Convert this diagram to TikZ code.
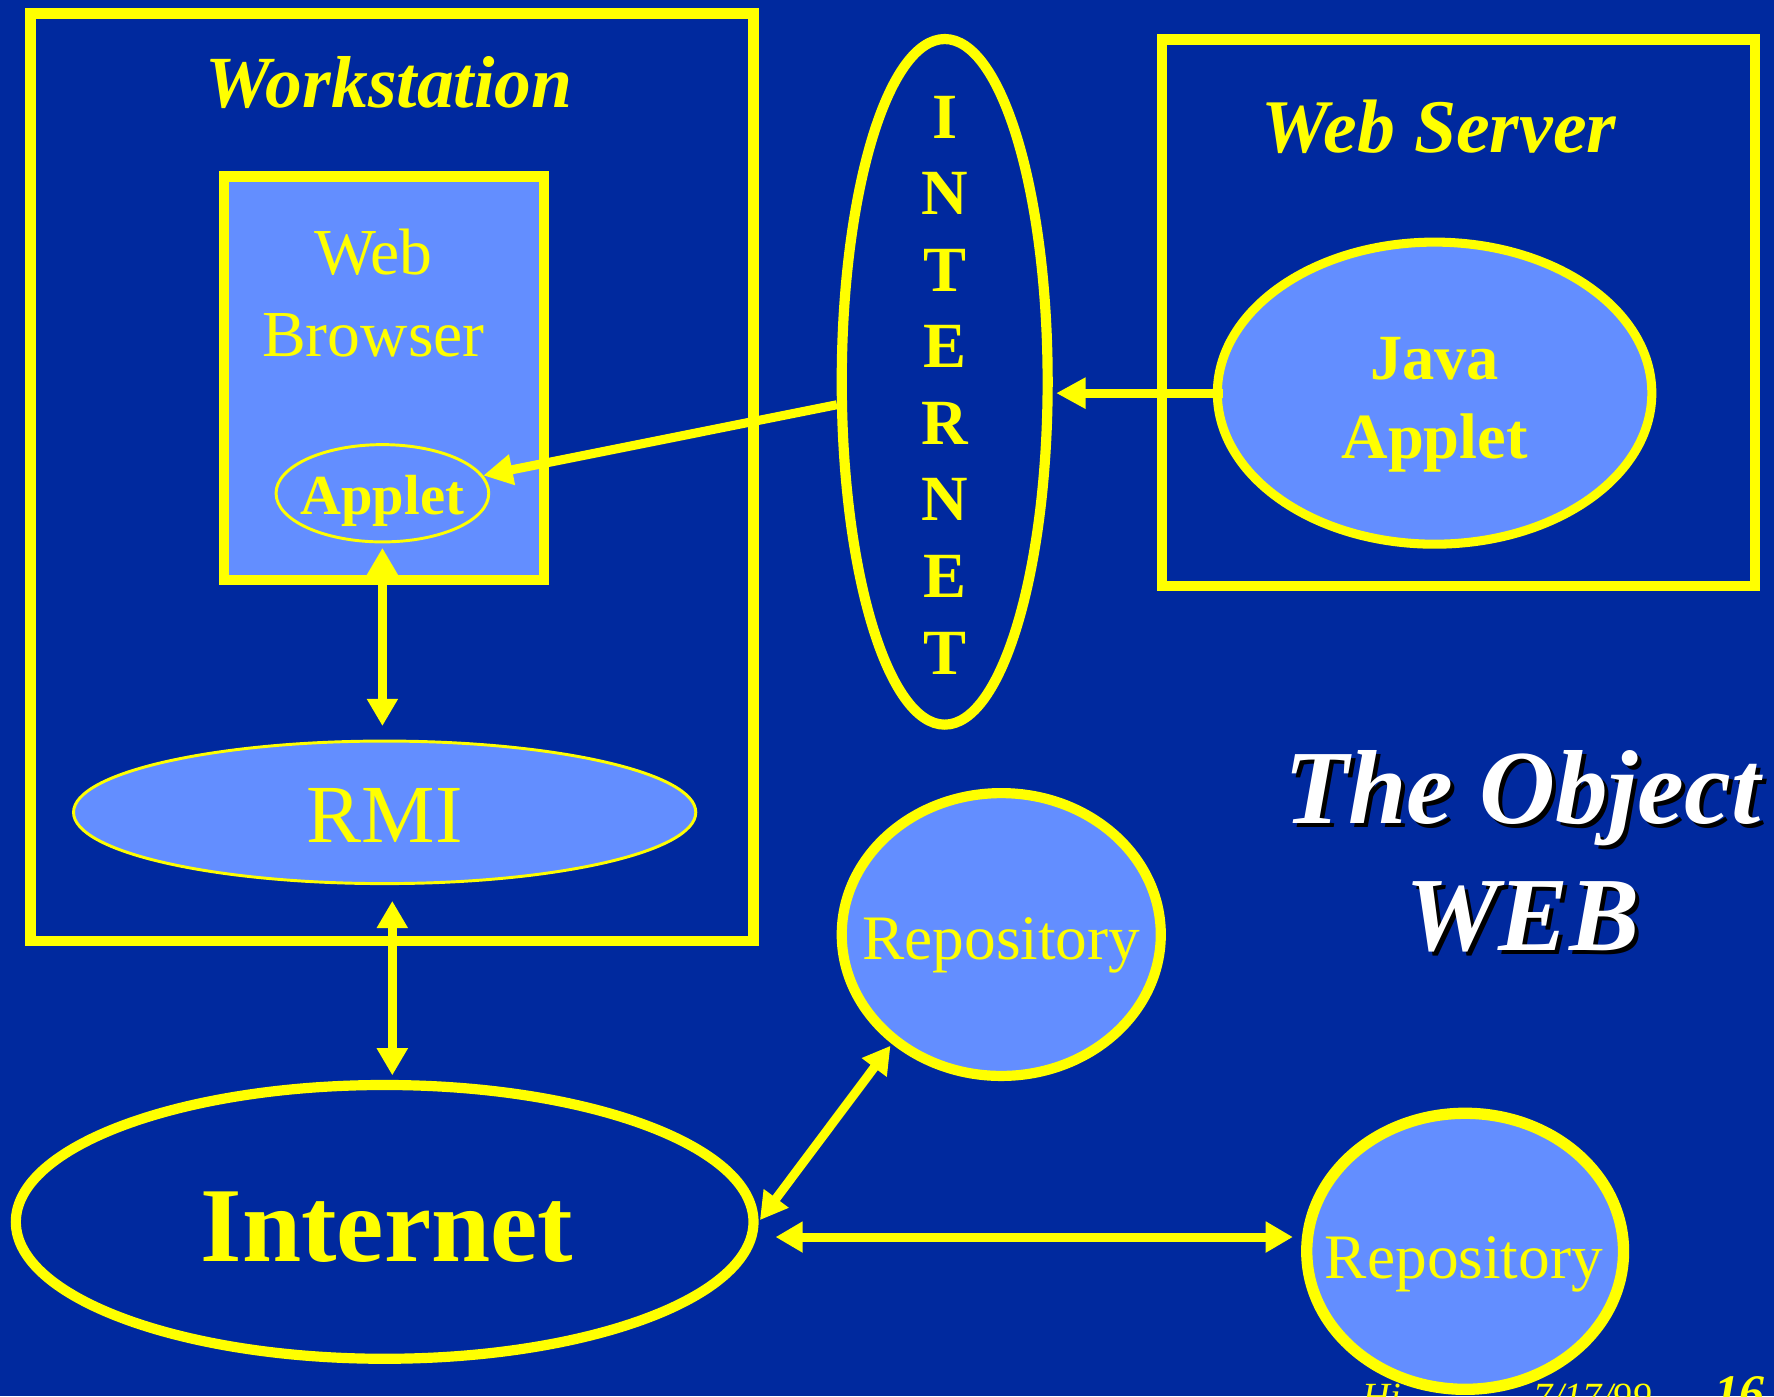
\documentclass[tikz,border=0pt]{standalone}
\usepackage{fontspec}
\setmainfont{Liberation Serif}
\usetikzlibrary{arrows.meta,shapes.geometric,calc}
\definecolor{slide}{HTML}{00299E}
\definecolor{pale}{HTML}{638EFF}
\definecolor{hl}{HTML}{FFFF00}
\newcommand\fsz[1]{\fontsize{#1}{#1}\selectfont}

\begin{document}
\begin{tikzpicture}[x=0.5pt,y=-0.5pt,
  frame/.style={draw=hl,line width=4.5pt,inner sep=0pt},
  oval/.style={ellipse,draw=hl,inner sep=0pt},
  lbl/.style={text=hl,inner sep=0pt,anchor=base},
  link/.style={draw=hl,line width=4pt},
  tip/.style={-{Triangle[length=13pt,width=13pt]}},
  both/.style={{Triangle[length=12pt,width=13pt]}-{Triangle[length=12pt,width=13pt]}}
]
\useasboundingbox (0,0) rectangle (1568,1234);
\clip (0,0) rectangle (1568,1234);
\fill[slide] (0,0) rectangle (1568,1234);

% Workstation
\node[frame,minimum width=319.5pt,minimum height=410pt] (ws) at (346.5,422) {};
\node[lbl,font=\fsz{32.5}\bfseries\itshape] (wsl) at (344,95) {Workstation};
\node[frame,fill=pale,minimum width=141.5pt,minimum height=178.5pt] (wb) at (339.5,334.5) {};
\node[lbl,font=\fsz{29}] (wbl1) at (330,243) {Web};
\node[lbl,font=\fsz{29}] (wbl2) at (330,315) {Browser};
\node[oval,line width=1.3pt,minimum width=94pt,minimum height=43pt] (applet) at (338,436) {};
\node[lbl,font=\fsz{25}\bfseries] (appletl) at (338,455) {Applet};
\node[oval,fill=pale,line width=1.3pt,minimum width=275pt,minimum height=63pt] (rmi) at (340,718) {};
\node[lbl,font=\fsz{36.5}] (rmil) at (340,745) {RMI};

% Internet (bottom)
\node[oval,line width=4.5pt,minimum width=326pt,minimum height=121pt] (net) at (340,1080) {};
\node[lbl,font=\fsz{47}\bfseries] (netl) at (342,1115) {Internet};

% INTERNET (vertical)
\node[oval,line width=4.5pt,minimum width=91pt,minimum height=303pt] (inet) at (835,337.5) {};
\foreach \ch/\yy [count=\k] in {I/122,N/190,T/258,E/325,R/393,N/460,E/528,T/596}
  \node[lbl,font=\fsz{28.5}\bfseries] (inetc\k) at (835,\yy) {\ch};

% Web server
\node[frame,minimum width=262pt,minimum height=241.5pt] (ws2) at (1289,276.5) {};
\node[lbl,font=\fsz{33.5}\bfseries\itshape] (ws2l) at (1272,135) {Web Server};
\node[oval,fill=pale,line width=4pt,minimum width=192pt,minimum height=133.5pt] (java) at (1268,347.5) {};
\node[lbl,font=\fsz{28.5}\bfseries] (javal1) at (1268,335) {Java};
\node[lbl,font=\fsz{28.5}\bfseries] (javal2) at (1268,405) {Applet};

% Title with drop shadow
\node[lbl,font=\fsz{46.5}\bfseries\itshape,text=black] (t1s) at (1349,731.5) {The Object};
\node[lbl,font=\fsz{46.5}\bfseries\itshape,text=white] (t1) at (1345.5,728) {The Object};
\node[lbl,font=\fsz{46.5}\bfseries\itshape,text=black] (t2s) at (1349,843.5) {WEB};
\node[lbl,font=\fsz{46.5}\bfseries\itshape,text=white] (t2) at (1345.5,840) {WEB};

% Footer
\node[lbl,anchor=base west,font=\fsz{17}\itshape] (ft1) at (1204,1246) {Hi};
\node[lbl,anchor=base east,font=\fsz{17}\itshape] (ft2) at (1460,1246) {7/17/99};
\node[lbl,anchor=base west,font=\fsz{22}\bfseries\itshape] (ft3) at (1515,1246) {16};

% Repositories
\node[oval,fill=pale,line width=4.5pt,minimum width=141pt,minimum height=125pt] (repo1) at (885,826) {};
\node[lbl,font=\fsz{28}] (repo1l) at (885,848) {Repository};
\node[oval,fill=pale,line width=5pt,minimum width=140pt,minimum height=122pt] (repo2) at (1295,1106) {};
\node[lbl,font=\fsz{28}] (repo2l) at (1294,1130) {Repository};

% Connectors
\draw[link,tip] (inet.192) -- (applet.10);
\draw[link,tip] ($(java.west)+(9,0)$) -- ($(java.west -| inet.east)+(3,0)$);
\draw[link,both,shorten <=2pt,shorten >=6pt] (applet.south) -- (applet.south |- rmi.north);
\draw[link,both,shorten <=7pt,shorten >=2pt] (rmi.276) -- (rmi.276 |- net.north);
\draw[link,both,shorten <=1pt,shorten >=1pt] (net.east) -- (repo1.225);
\draw[link,both,shorten <=7.5pt,shorten >=4pt] (net.east |- repo2.175) -- (repo2.175);
\end{tikzpicture}
\end{document}
